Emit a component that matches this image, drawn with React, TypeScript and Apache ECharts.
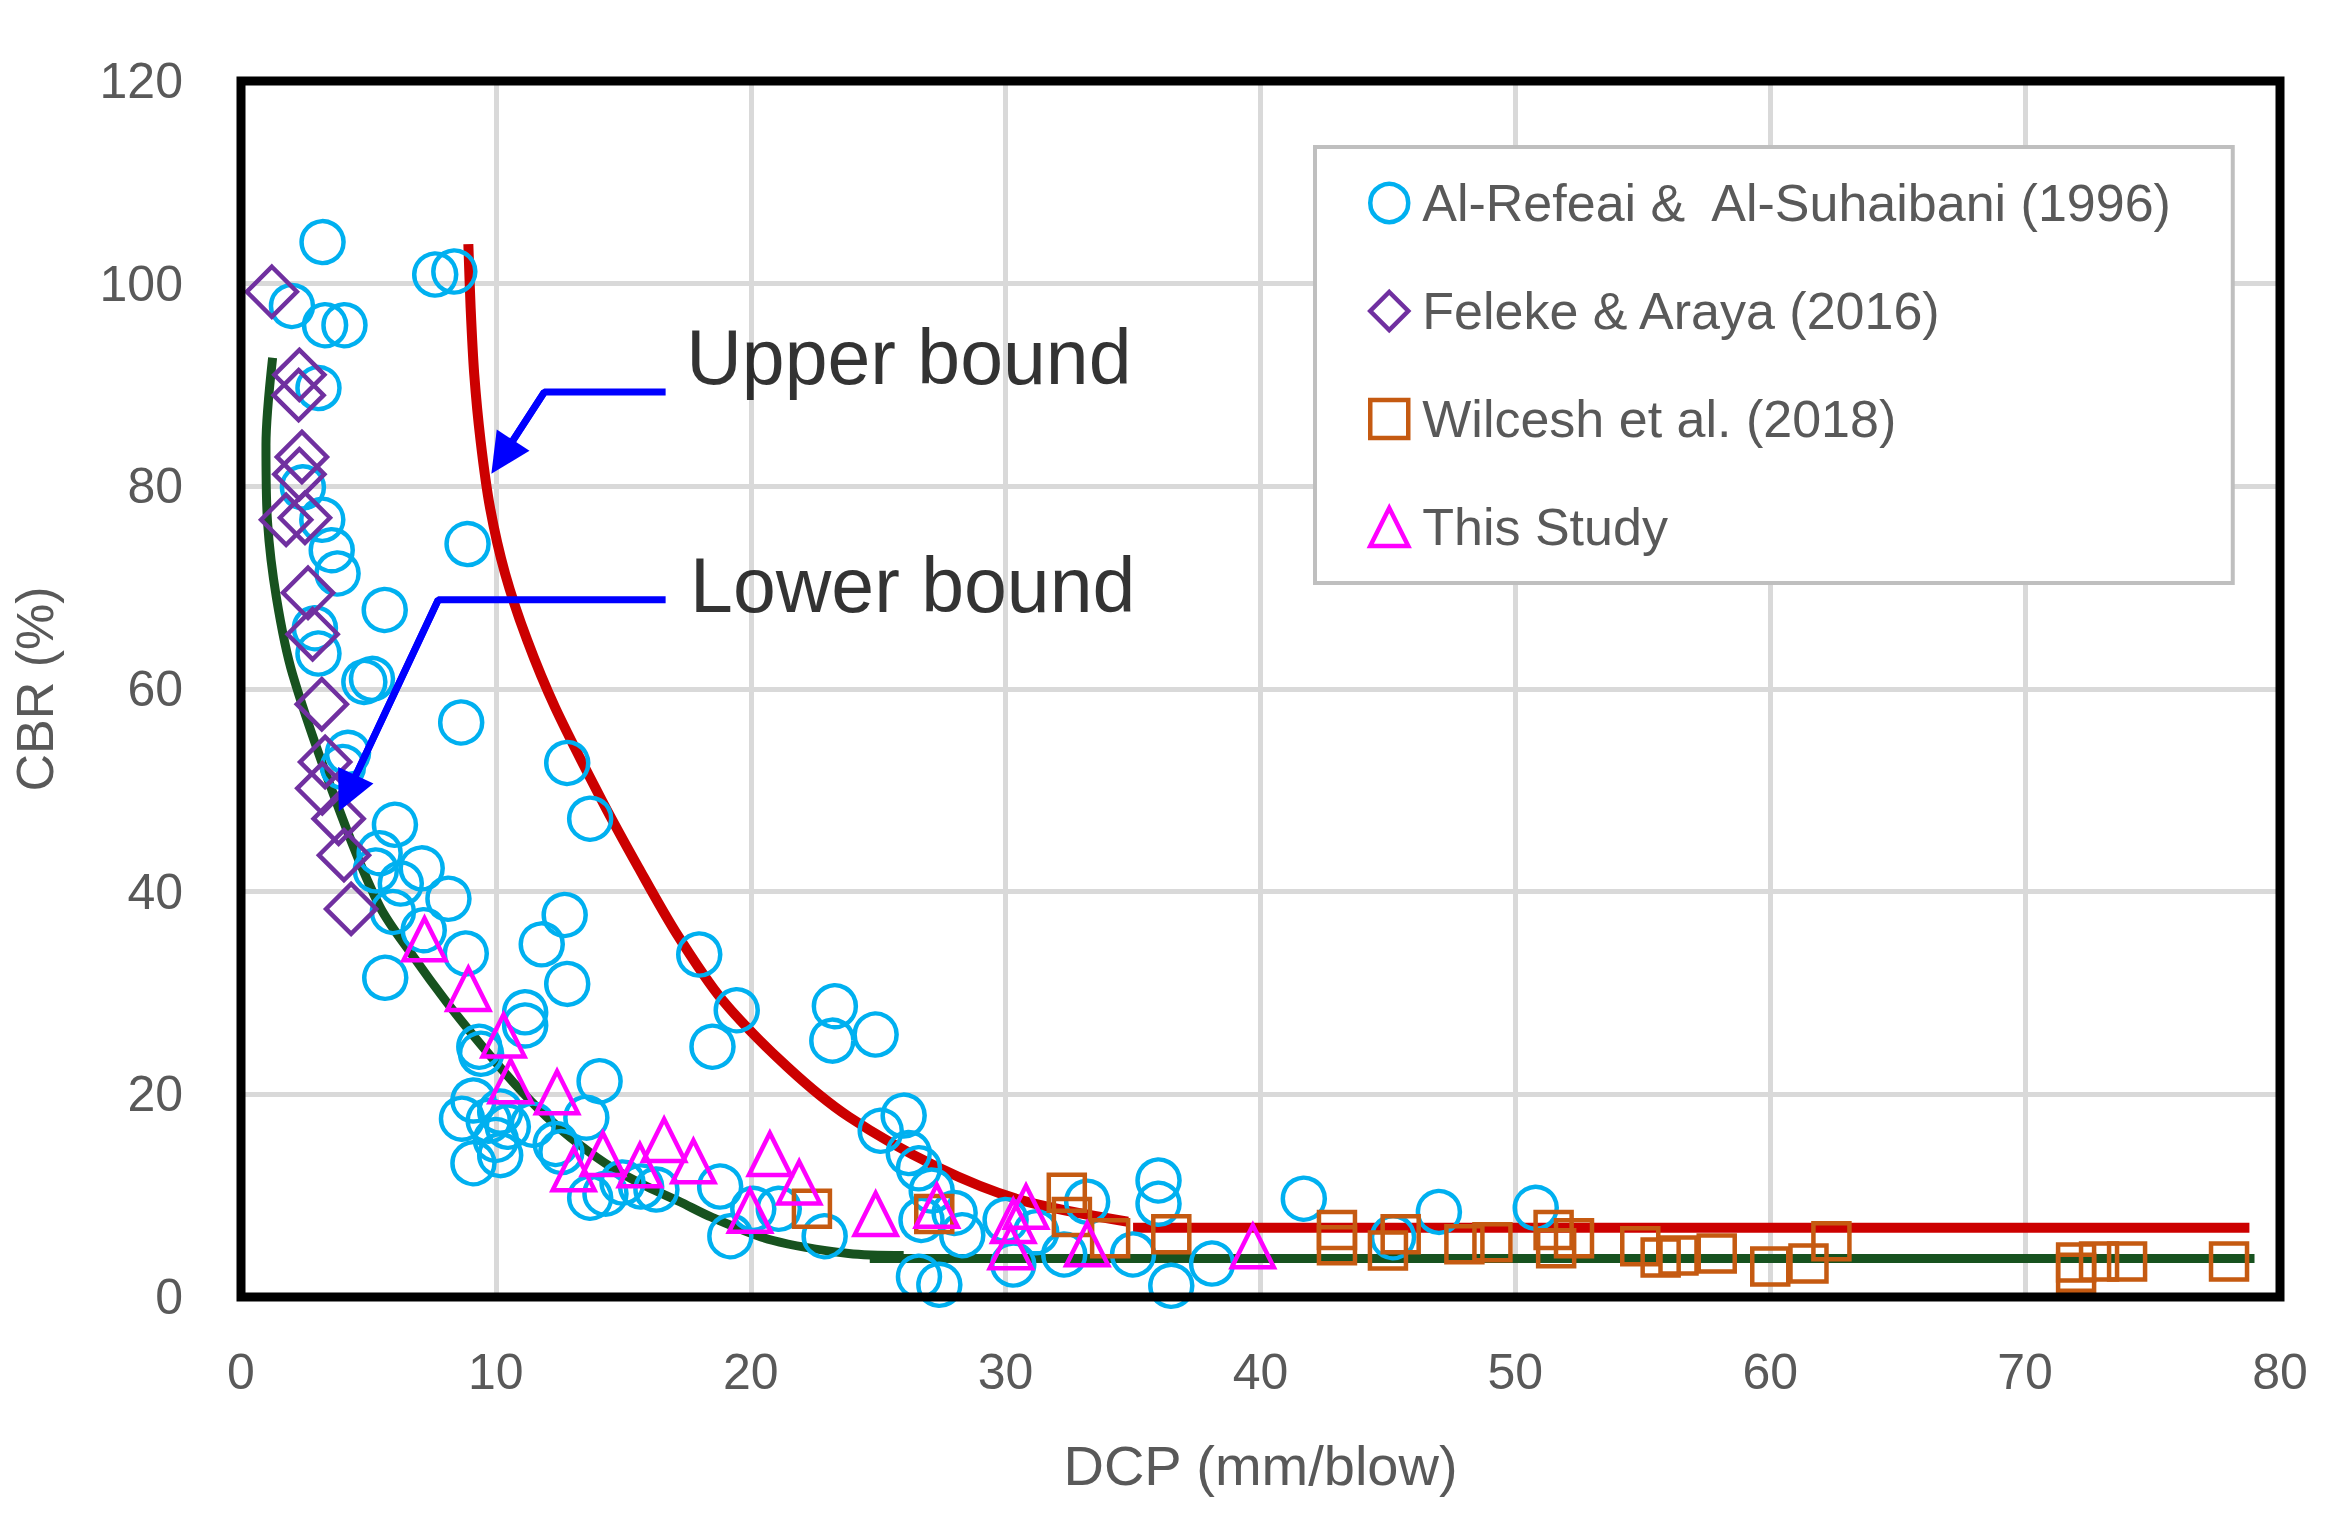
import React, { useEffect, useRef } from "react";
import * as echarts from "echarts";

// DCP (mm/blow), CBR (%)
const alRefeai: number[][] = [
  [3.2, 104.1], [2.0, 97.8], [3.3, 95.9], [4.06, 95.9], [7.62, 100.9], [8.37, 101.2],
  [3.04, 89.7], [2.43, 79.9], [3.19, 76.7], [3.56, 73.7], [3.79, 71.4], [8.89, 74.3],
  [5.64, 67.8], [5.14, 61.0], [4.84, 60.7], [3.04, 63.5], [2.9, 66.0], [8.64, 56.7],
  [4.2, 53.7], [4.0, 52.3], [12.8, 52.7], [13.7, 47.2], [6.04, 46.6], [5.44, 43.8],
  [7.09, 42.3], [6.27, 40.8], [8.14, 39.3], [5.29, 42.1], [5.96, 38.0], [7.17, 36.2],
  [8.82, 33.9], [5.66, 31.5], [12.7, 37.7], [11.8, 34.8], [12.8, 30.9], [11.15, 28.1],
  [11.15, 26.8], [17.98, 33.8], [19.45, 28.3], [18.5, 24.7], [23.3, 28.7], [23.2, 25.3],
  [24.9, 25.9], [9.35, 24.7], [9.42, 24.0], [14.07, 21.3], [13.55, 17.7], [9.12, 19.4],
  [8.67, 17.6], [10.17, 18.3], [9.72, 17.4], [10.47, 16.8], [11.45, 17.0], [9.12, 13.2],
  [10.17, 14.0], [10.0, 15.5], [12.35, 15.1], [12.57, 14.3], [13.7, 9.8], [14.3, 10.2],
  [14.97, 11.3], [15.7, 10.9], [16.3, 10.6], [18.8, 10.9], [19.2, 6.0], [20.1, 8.7],
  [21.1, 8.7], [22.9, 6.0], [25.1, 16.4], [26.0, 17.9], [26.2, 14.2], [26.6, 12.7],
  [26.7, 7.6], [26.6, 2.0], [27.4, 1.2], [28.0, 8.3], [28.3, 6.1], [27.1, 10.5],
  [30.0, 7.6], [30.3, 3.2], [31.2, 6.4], [32.3, 4.2], [33.2, 9.4], [35.0, 4.2],
  [36.0, 11.5], [36.0, 9.2], [36.5, 1.1], [38.1, 3.3], [41.7, 9.7], [45.2, 5.9],
  [47.0, 8.4], [50.8, 8.8],
];

const feleke: number[][] = [
  [1.21, 99.2], [2.29, 91.0], [2.26, 89.0], [2.39, 82.9], [2.29, 81.2], [1.77, 76.7],
  [2.51, 76.9], [2.63, 69.5], [2.81, 65.4], [3.17, 58.5], [3.3, 52.8], [3.19, 50.2],
  [3.83, 47.2], [4.04, 43.6], [4.32, 38.3],
];

const wilcesh: number[][] = [
  [22.4, 8.7], [27.2, 8.2], [32.4, 10.3], [32.6, 7.9], [34.1, 5.8], [36.5, 6.2],
  [43.0, 6.6], [43.0, 5.1], [45.0, 4.6], [45.5, 6.2], [48.0, 5.2], [49.1, 5.4],
  [51.5, 6.6], [51.6, 4.8], [52.3, 5.8], [54.9, 5.0], [55.7, 3.9], [56.4, 4.1],
  [57.9, 4.3], [60.0, 3.0], [61.5, 3.3], [62.4, 5.5], [72.0, 3.4], [72.0, 2.4],
  [72.9, 3.5], [74.0, 3.5], [78.0, 3.5],
];

const thisStudy: number[][] = [
  [7.2, 35.3], [8.92, 30.4], [10.3, 25.8], [10.58, 21.3], [12.4, 20.2], [13.05, 12.6],
  [14.2, 14.1], [15.65, 13.0], [16.6, 15.5], [17.75, 13.4], [20.75, 14.1], [21.9, 11.3],
  [19.97, 8.5], [24.9, 8.2], [27.3, 9.0], [30.3, 7.5], [30.8, 8.9], [30.2, 4.9],
  [33.2, 5.2], [39.7, 5.0],
];

// bounds
const upperCurve: number[][] = [
  [8.92, 103.9], [9.01, 97.6], [9.15, 91.1], [9.4, 84.5], [9.77, 77.9], [10.36, 71.4],
  [11.23, 64.8], [12.32, 58.2], [14.16, 49.0], [15.59, 42.4], [17.08, 35.9], [18.89, 29.3],
  [21.44, 22.7], [23.84, 17.8], [27.3, 12.85], [30.6, 9.56], [34.8, 7.43],
];
const upperFlat: number[][] = [[35.0, 6.83], [78.8, 6.83]];

const lowerCurve: number[][] = [
  [1.24, 92.7], [0.98, 84.1], [1.04, 76.5], [1.39, 69.0], [2.03, 61.4], [3.94, 47.5],
  [5.45, 38.5], [6.76, 33.6], [8.07, 29.1], [9.38, 25.0], [10.68, 21.2], [11.99, 17.8],
  [13.3, 15.0], [14.6, 12.7], [15.92, 10.9], [17.22, 9.4], [18.44, 7.9], [20.84, 5.6],
  [23.84, 4.3], [26.0, 4.1],
];
const lowerFlat: number[][] = [[24.67, 3.8], [79.0, 3.8]];

// call-out arrows: start, bend, arrow-head centre
const upperArrow: number[][] = [[16.66, 89.3], [11.9, 89.3], [10.25, 82.9]];
const lowerArrow: number[][] = [[16.66, 68.8], [7.74, 68.8], [4.17, 49.7]];
const boundLabels: (number | string)[][] = [
  [17.45, 92.8, "Upper bound"],
  [17.6, 70.25, "Lower bound"],
];

const xTicks = [0, 10, 20, 30, 40, 50, 60, 70, 80];
const yTicks = [0, 20, 40, 60, 80, 100, 120];

const FONT = "'Liberation Sans', Arial, sans-serif";
const GREY = "#595959";

const scatter = (name: string, data: number[][], symbol: string, size: number | number[], color: string) => ({
  name,
  type: "scatter",
  data,
  symbol,
  symbolSize: size,
  itemStyle: { color: "rgba(0,0,0,0)", borderColor: color, borderWidth: 4.5, opacity: 1 },
  z: 3,
});

const arrow = (pts: number[][]) => ({
  type: "line",
  data: pts,
  symbol: "none",
  lineStyle: { color: "#0000ff", width: 7 },
  silent: true,
  z: 5,
  markLine: {
    silent: true,
    symbol: ["none", "triangle"],
    symbolSize: [39, 40],
    lineStyle: { color: "#0000ff", width: 7, type: "solid" },
    label: { show: false },
    data: [[{ coord: pts[1] }, { coord: pts[2] }]],
  },
});

const curve = (data: number[][], color: string, width: number, smooth: number | boolean) => ({
  type: "line",
  data,
  smooth,
  symbol: "none",
  lineStyle: { color, width },
  silent: true,
  z: 2,
});

const App: React.FC = () => {
  const chartRef = useRef<HTMLDivElement>(null);

  useEffect(() => {
    if (!chartRef.current) return;
    const chart = echarts.init(chartRef.current, undefined, { renderer: "svg" });

    const option = {
      animation: false,
      backgroundColor: "#fff",
      textStyle: { fontFamily: FONT },
      grid: {
        left: 241,
        top: 81,
        width: 2039,
        height: 1216,
        show: true,
        borderColor: "#000",
        borderWidth: 9,
        outerBoundsMode: "none",
        z: 4,
      },
      legend: {
        orient: "vertical",
        left: 1315,
        top: 147,
        padding: [30, 59, 30, 53],
        itemGap: 56,
        itemWidth: 38,
        itemHeight: 38,
        borderColor: "#bfbfbf",
        borderWidth: 4,
        backgroundColor: "#fff",
        itemStyle: { borderWidth: 4.5 },
        textStyle: { fontSize: 52, color: GREY, fontFamily: FONT, lineHeight: 40, padding: [0, 0, 0, 9] },
        data: ["Al-Refeai &  Al-Suhaibani (1996)", "Feleke & Araya (2016)", "Wilcesh et al. (2018)", "This Study"],
      },
      xAxis: {
        type: "value",
        min: xTicks[0],
        max: xTicks[xTicks.length - 1],
        interval: 10,
        name: "DCP (mm/blow)",
        nameLocation: "middle",
        nameGap: 140,
        nameTextStyle: { fontSize: 56, color: GREY, fontFamily: FONT },
        axisLine: { show: false },
        axisTick: { show: false },
        axisLabel: { fontSize: 50, color: GREY, margin: 50, fontFamily: FONT },
        splitLine: { lineStyle: { color: "#d9d9d9", width: 5 } },
      },
      yAxis: {
        type: "value",
        min: yTicks[0],
        max: yTicks[yTicks.length - 1],
        interval: 20,
        name: "CBR (%)",
        nameLocation: "middle",
        nameGap: 180,
        nameTextStyle: { fontSize: 52, color: GREY, fontFamily: FONT },
        axisLine: { show: false },
        axisTick: { show: false },
        axisLabel: { fontSize: 50, color: GREY, margin: 58, fontFamily: FONT },
        splitLine: { lineStyle: { color: "#d9d9d9", width: 5 } },
      },
      series: [
        curve(upperCurve, "#cc0000", 10, 0.3),
        curve(upperFlat, "#cc0000", 10, false),
        curve(lowerCurve, "#17521f", 9, 0.3),
        curve(lowerFlat, "#17521f", 9, false),
        scatter("Al-Refeai &  Al-Suhaibani (1996)", alRefeai, "circle", 42, "#00b0f0"),
        scatter("Feleke & Araya (2016)", feleke, "diamond", 50, "#7030a0"),
        scatter("Wilcesh et al. (2018)", wilcesh, "rect", 36, "#c55a11"),
        scatter("This Study", thisStudy, "triangle", [42, 42], "#ff00ff"),
        arrow(upperArrow),
        arrow(lowerArrow),
        {
          type: "scatter",
          data: boundLabels,
          symbolSize: 1,
          itemStyle: { color: "rgba(0,0,0,0)" },
          silent: true,
          z: 6,
          label: {
            show: true,
            position: "right",
            distance: 0,
            formatter: (p: any) => p.value[2],
            fontSize: 77,
            color: "#000",
            fontFamily: FONT,
          },
        },
      ],
    };

    chart.setOption(option);
    return () => chart.dispose();
  }, []);

  return (
    <div
      ref={chartRef}
      style={{ position: "absolute", left: 0, top: 0, width: 2332, height: 1524 }}
    />
  );
};

export default App;
